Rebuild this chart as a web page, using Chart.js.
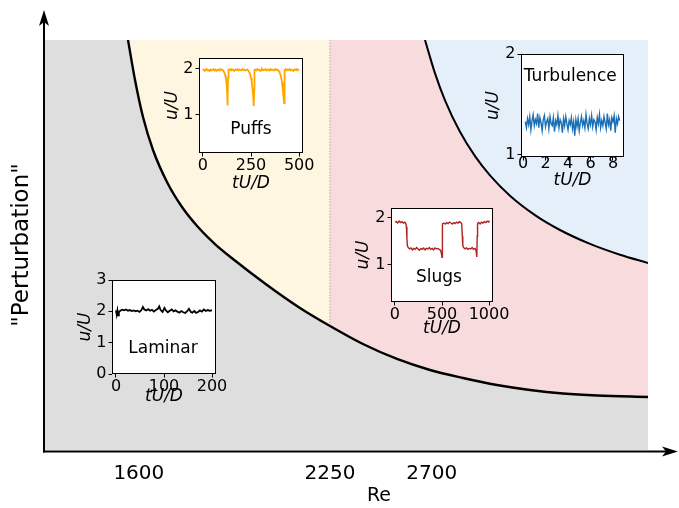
<!DOCTYPE html>
<html>
<head>
<meta charset="utf-8">
<script src="https://cdn.jsdelivr.net/npm/chart.js@4/dist/chart.umd.min.js"></script>
<style>
  html, body { margin: 0; padding: 0; background: #fff; }
  #wrap { position: relative; width: 679px; height: 508px; overflow: hidden; }
  #wrap canvas { position: absolute; left: 0; top: 0; }
</style>
</head>
<body>
<div id="wrap"><canvas id="main" width="679" height="508"></canvas></div>
<script>
// ---- Regime diagram (schematic units 0..100 on both axes) ----
const reTickLabels = ['1600', '2250', '2700'];
const reTickPos = [15.7, 47.35, 64.2];

// lower boundary: laminar below, puffs / slugs above
const lowerX = [13.91, 15.07, 16.39, 18.05, 20.36, 22.85, 25.50, 28.31, 31.29, 36.92, 42.38, 47.35,
  52.81, 58.44, 63.91, 69.37, 75.00, 80.46, 85.93, 91.56, 100];
const lowerY = [100, 90.24, 81.22, 73.17, 65.37, 59.27, 54.39, 50.24, 46.59, 40.24, 34.63, 30.24,
  25.85, 22.20, 19.51, 17.56, 15.85, 14.63, 13.78, 13.29, 12.93];

// upper boundary: slugs below, turbulence above
const upperX = [63.08, 64.74, 66.39, 68.87, 71.36, 73.84, 77.15, 81.29, 85.43, 90.40, 95.36, 100];
const upperY = [100, 91.85, 85.29, 77.61, 71.68, 66.98, 62.02, 57.29, 53.66, 50.27, 47.63, 45.63];

// ---- Centreline velocity traces ----
const puffsT = [0,5,10,15,20,25,30,35,40,45,50,55,60,65,70,75,80,85,90,95,100,
  104,108,112,116,119,122,124,126,127.5,128.5,130,131,132,
  135,140,145,150,155,160,165,170,175,180,185,190,195,200,205,210,215,220,225,230,
  235,240,245,250,254,258,261,263,265,267,268,
  272,277,282,287,292,297,302,307,312,317,322,327,332,337,342,347,352,357,362,367,372,377,382,387,
  392,397,402,407,411,415,418,420,422,424,425,
  430,435,440,445,450,455,460,465,470,475,480,485,490,495,500];
const puffsU = [1.96,1.98,1.95,1.97,1.99,1.96,1.97,1.95,1.98,1.96,1.97,1.99,1.96,1.98,1.95,1.97,1.98,1.96,1.99,1.97,1.98,
  1.96,1.94,1.91,1.86,1.80,1.72,1.62,1.48,1.32,1.20,1.42,1.80,1.96,
  1.98,1.97,1.99,1.96,1.98,1.97,1.95,1.98,1.97,1.99,1.96,1.98,1.97,1.96,1.99,1.97,1.98,1.96,1.97,1.98,
  1.96,1.93,1.88,1.80,1.70,1.56,1.42,1.30,1.19,1.55,1.97,
  1.98,1.96,1.99,1.97,1.98,1.95,1.97,1.99,1.96,1.98,1.97,1.99,1.96,1.97,1.98,1.96,1.99,1.97,1.98,1.96,1.97,1.99,1.97,1.98,
  1.96,1.93,1.88,1.80,1.70,1.56,1.42,1.33,1.25,1.60,1.97,
  1.99,1.96,1.98,1.97,1.99,1.96,1.98,1.97,1.95,1.98,1.97,1.99,1.96,1.98,1.97];

const slugsT = [0,15,30,45,60,75,90,105,115,122,127,132,140,155,170,185,200,215,230,245,260,275,290,305,320,335,350,365,380,395,410,425,440,455,470,485,495,500,503,506,
  520,535,550,565,580,595,610,625,640,655,670,685,700,710,716,721,730,745,760,775,790,805,820,835,850,862,870,874,878,
  890,905,920,935,950,965,980,995,1005];
const slugsU = [1.90,1.91,1.88,1.92,1.89,1.91,1.88,1.90,1.87,1.80,1.55,1.40,1.36,1.33,1.35,1.31,1.34,1.32,1.36,1.33,1.30,1.34,1.32,1.35,1.31,1.34,1.33,1.36,1.32,1.34,1.31,1.35,1.33,1.34,1.32,1.30,1.22,1.15,1.55,1.86,
  1.88,1.86,1.89,1.87,1.90,1.88,1.86,1.89,1.87,1.90,1.88,1.91,1.89,1.86,1.60,1.40,1.36,1.33,1.35,1.32,1.34,1.33,1.36,1.32,1.34,1.30,1.16,1.60,1.87,
  1.89,1.86,1.90,1.88,1.91,1.89,1.92,1.90,1.93];

const turbT = [0.2,0.3,0.4,0.5,0.6,0.7,0.8,0.9,1.0,1.1,1.2,1.3,1.4,1.5,1.6,1.7,1.8,1.9,2.0,2.1,
  2.2,2.3,2.4,2.5,2.6,2.7,2.8,2.9,3.0,3.1,3.2,3.3,3.4,3.5,3.6,3.7,3.8,3.9,4.0,4.1,
  4.2,4.3,4.4,4.5,4.6,4.7,4.8,4.9,5.0,5.1,5.2,5.3,5.4,5.5,5.6,5.7,5.8,5.9,6.0,6.1,
  6.2,6.3,6.4,6.5,6.6,6.7,6.8,6.9,7.0,7.1,7.2,7.3,7.4,7.5,7.6,7.7,7.8,7.9,8.0,8.1,
  8.2,8.3,8.4,8.5,8.6];
const turbU = [1.33,1.27,1.36,1.30,1.38,1.25,1.34,1.40,1.29,1.35,
  1.31,1.41,1.27,1.37,1.32,1.24,1.35,1.39,1.28,1.33,
  1.36,1.26,1.38,1.31,1.29,1.37,1.23,1.34,1.30,1.39,
  1.27,1.35,1.32,1.22,1.36,1.29,1.38,1.31,1.25,1.34,
  1.30,1.37,1.26,1.33,1.19,1.35,1.28,1.36,1.24,1.32,
  1.38,1.29,1.34,1.27,1.40,1.31,1.26,1.36,1.30,1.39,
  1.28,1.35,1.33,1.25,1.37,1.31,1.40,1.27,1.34,1.29,
  1.38,1.32,1.26,1.41,1.30,1.35,1.24,1.37,1.33,1.39,
  1.22,1.36,1.31,1.38,1.34];

const lamT = [0,1.5,3,4.5,6,9,13,17,21,25,29,33,37,41,45,49,53,56,59,63,67,71,75,79,83,87,
  90,93,97,101,104,108,112,116,120,124,128,132,136,140,144,148,152,156,
  159,163,167,171,175,179,183,187,191,195,200];
const lamU = [2.03,1.90,2.03,1.87,1.98,2.02,2.05,2.03,2.06,2.02,2.04,2.01,2.03,2.00,2.02,1.98,2.04,2.14,2.06,2.03,2.07,2.02,2.05,1.99,2.04,2.08,
  2.16,2.04,1.98,2.11,2.03,1.97,2.02,2.06,2.00,2.03,1.99,1.96,2.01,1.97,1.95,2.00,2.08,1.98,
  1.96,2.01,1.95,1.98,2.03,1.99,2.06,2.01,2.04,2.02,2.03];

const FONT = 'DejaVu Sans';
const pts = (xs, ys) => xs.map((x, i) => ({ x, y: ys[i] }));

// ---------------- main diagram ----------------
const lower = pts(lowerX, lowerY);
const upper = pts(upperX, upperY);
const split = reTickPos[1];
const lowerLeft = lower.filter(p => p.x <= split);
const lowerRight = lower.filter(p => p.x >= split);
const lowerAtSplit = lowerY[lowerX.indexOf(split)];

function region(data, color, fill, order) {
  return { data, backgroundColor: color, borderWidth: 0, fill, order,
           pointRadius: 0, cubicInterpolationMode: 'monotone' };
}

function arrowHead(ctx, tx, ty, dx, dy, len, half, notch) {
  const px = -dy, py = dx;
  const bx = tx - dx * len, by = ty - dy * len;
  ctx.beginPath();
  ctx.moveTo(tx, ty);
  ctx.lineTo(bx + px * half, by + py * half);
  ctx.lineTo(tx - dx * (len - notch), ty - dy * (len - notch));
  ctx.lineTo(bx - px * half, by - py * half);
  ctx.closePath();
  ctx.fill();
}

// axis lines with arrow heads, plus the Re label under the arrow
const axesArrows = {
  id: 'axesArrows',
  afterDraw(chart) {
    const { ctx, chartArea: a } = chart;
    const x0 = a.left, y0 = a.bottom + 1.5;
    ctx.save();
    ctx.strokeStyle = '#000';
    ctx.fillStyle = '#000';
    ctx.lineWidth = 2;
    ctx.beginPath(); ctx.moveTo(x0, y0 + 1); ctx.lineTo(x0, 20); ctx.stroke();
    ctx.beginPath(); ctx.moveTo(x0 - 1, y0); ctx.lineTo(668, y0); ctx.stroke();
    arrowHead(ctx, x0, 10, 0, -1, 16, 5, 4);
    arrowHead(ctx, 678, y0, 1, 0, 16, 5, 4);
    ctx.font = '19px "' + FONT + '"';
    ctx.textAlign = 'center';
    ctx.textBaseline = 'middle';
    ctx.fillText('Re', 379, 496);
    ctx.restore();
  }
};

new Chart(document.getElementById('main'), {
  type: 'line',
  data: {
    datasets: [
      { data: lower, borderColor: '#000', borderWidth: 2.4, fill: false, order: 0,
        pointRadius: 0, cubicInterpolationMode: 'monotone' },
      { data: upper, borderColor: '#000', borderWidth: 2, fill: false, order: 1,
        pointRadius: 0, cubicInterpolationMode: 'monotone' },
      { data: [{ x: split, y: lowerAtSplit }, { x: split, y: 100 }], borderColor: '#a8a8a8',
        borderWidth: 1, borderDash: [1.5, 1.5], fill: false, order: 2, pointRadius: 0 },
      region(upper, '#e5effa', 'end', 3),
      region(lowerRight, '#f8dcdd', 'end', 4),
      region(lowerLeft, '#fef6e0', 'end', 5),
      region([{ x: 0, y: 100 }, { x: 100, y: 100 }], '#dedede', 'origin', 6)
    ]
  },
  options: {
    responsive: false, animation: false, devicePixelRatio: 1,
    layout: { padding: { top: 40, right: 31, left: 0, bottom: 0 } },
    plugins: { legend: { display: false }, tooltip: { enabled: false } },
    scales: {
      x: {
        type: 'linear', min: 0, max: 100,
        grid: { display: false }, border: { display: false },
        afterBuildTicks: s => { s.ticks = reTickPos.map(v => ({ value: v })); },
        afterFit: s => { s.height = 58; },
        ticks: { padding: 6, color: '#000', autoSkip: false, maxRotation: 0,
                 font: { family: FONT, size: 20, lineHeight: 1 },
                 callback: (v, i) => reTickLabels[i] }
      },
      y: {
        type: 'linear', min: 0, max: 100,
        grid: { display: false }, border: { display: false },
        ticks: { display: false },
        afterFit: s => { s.width = 44; },
        title: { display: true, text: '"Perturbation"', color: '#000',
                 font: { family: FONT, size: 23, lineHeight: 1 }, padding: { top: 11, bottom: 0 } }
      }
    }
  },
  plugins: [axesArrows]
});

// ---------------- inset traces ----------------
const insetFrame = {
  id: 'insetFrame',
  beforeDraw(chart) {
    const { ctx, chartArea: a } = chart;
    ctx.save(); ctx.fillStyle = '#fff';
    ctx.fillRect(a.left, a.top, a.right - a.left, a.bottom - a.top);
    ctx.restore();
  },
  afterDatasetsDraw(chart, args, opts) {
    const { ctx, chartArea: a, scales } = chart;
    ctx.save();
    ctx.strokeStyle = '#000'; ctx.lineWidth = 1;
    ctx.strokeRect(a.left + 0.5, a.top + 0.5, a.right - a.left - 1, a.bottom - a.top - 1);
    ctx.fillStyle = '#000';
    ctx.font = '17px "' + FONT + '"';
    ctx.textAlign = 'center'; ctx.textBaseline = 'middle';
    ctx.fillText(opts.text, scales.x.getPixelForValue(opts.at[0]), scales.y.getPixelForValue(opts.at[1]));
    ctx.restore();
  }
};

function inset(cfg) {
  const [bx, by, bw, bh] = cfg.box;
  const L = cfg.left, T = 12, R = 26, B = cfg.bottom;
  const c = document.createElement('canvas');
  c.width = bw + L + R; c.height = bh + T + B;
  c.style.left = (bx - L) + 'px'; c.style.top = (by - T) + 'px';
  document.getElementById('wrap').appendChild(c);
  const tickFont = { family: FONT, size: 16, lineHeight: 1 };
  const titleFont = { family: FONT, size: 17, style: 'italic', lineHeight: 1.2 };
  new Chart(c, {
    type: 'line',
    data: { datasets: [{ data: pts(cfg.t, cfg.u), borderColor: cfg.color, borderWidth: cfg.width,
                         pointRadius: 0, tension: 0, fill: false }] },
    options: {
      responsive: false, animation: false, devicePixelRatio: 1,
      layout: { padding: { top: T, right: R, left: 0, bottom: 0 } },
      plugins: { legend: { display: false }, tooltip: { enabled: false },
                 insetFrame: { text: cfg.label, at: cfg.labelAt } },
      scales: {
        x: {
          type: 'linear', min: cfg.xr[0], max: cfg.xr[1],
          afterBuildTicks: s => { s.ticks = cfg.xt.map(v => ({ value: v })); },
          afterFit: s => { s.height = B; },
          grid: { drawOnChartArea: false, drawTicks: true, tickLength: 3.5, color: '#000', lineWidth: 1 },
          border: { display: false },
          ticks: { padding: cfg.xpad, color: '#000', autoSkip: false, maxRotation: 0, font: tickFont,
                   callback: (v, i) => String(cfg.xt[i]) },
          title: { display: true, text: 'tU/D', color: '#000', font: titleFont, padding: 0 }
        },
        y: {
          type: 'linear', min: cfg.yr[0], max: cfg.yr[1],
          afterBuildTicks: s => { s.ticks = cfg.yt.map(v => ({ value: v })); },
          afterFit: s => { s.width = L; },
          grid: { drawOnChartArea: false, drawTicks: true, tickLength: 3.5, color: '#000', lineWidth: 1 },
          border: { display: false },
          ticks: { padding: 2, color: '#000', autoSkip: false, font: tickFont,
                   callback: (v, i) => String(cfg.yt[i]) },
          title: { display: true, text: 'u/U', color: '#000', font: titleFont, padding: 0 }
        }
      }
    },
    plugins: [insetFrame]
  });
}

inset({ box: [199, 58, 104, 95], left: 37, bottom: 41, xpad: 1, t: puffsT, u: puffsU, color: '#ffa500', width: 1.8,
        xr: [-20, 520], yr: [0.17, 2.23], xt: [0, 250, 500], yt: [1, 2], label: 'Puffs', labelAt: [250, 0.68] });
inset({ box: [391, 208, 102, 94], left: 38, bottom: 37, xpad: 1, t: slugsT, u: slugsU, color: '#b22222', width: 1.4,
        xr: [-42, 1042], yr: [0.2, 2.2], xt: [0, 500, 1000], yt: [1, 2], label: 'Slugs', labelAt: [468, 0.73] });
inset({ box: [521, 54, 103, 103], left: 38, bottom: 34, xpad: -5, t: turbT, u: turbU, color: '#1a6fb6', width: 1.4,
        xr: [-0.18, 8.98], yr: [0.98, 2.0], xt: [0, 2, 4, 6, 8], yt: [1, 2], label: 'Turbulence', labelAt: [4.2, 1.78] });
inset({ box: [112, 280, 104, 94], left: 37, bottom: 33, xpad: 1, t: lamT, u: lamU, color: '#000', width: 1.8,
        xr: [-8.3, 208.3], yr: [0, 3], xt: [0, 100, 200], yt: [0, 1, 2, 3], label: 'Laminar', labelAt: [98, 0.8] });
</script>
</body>
</html>
